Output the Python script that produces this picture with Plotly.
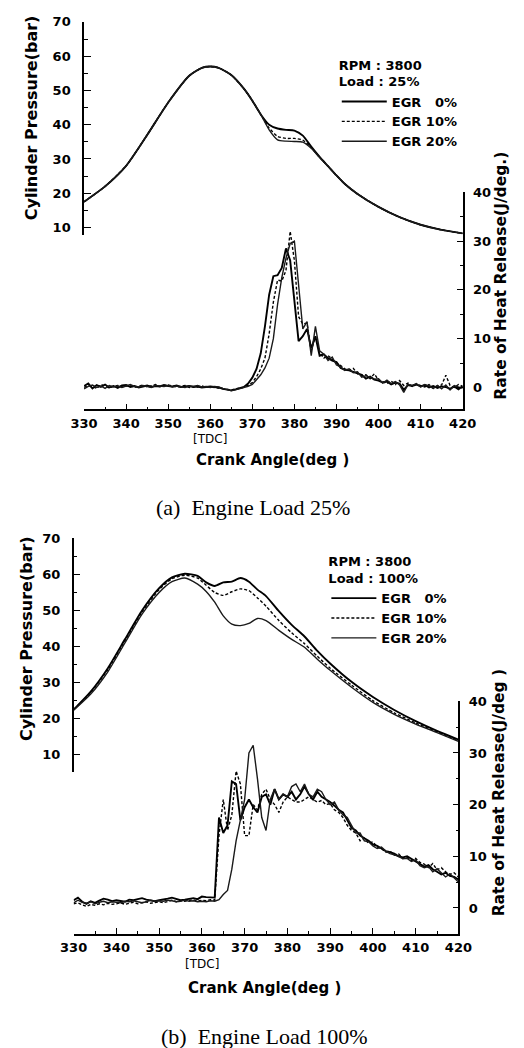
import plotly.graph_objects as go

# ---------------- data ----------------
CA = list(range(330, 421))  # crank angle, 1 deg steps (heat release)

# (a) Engine load 25 % - cylinder pressure (bar)
PA_ANG = [330, 335, 340, 345, 350, 355, 358, 360, 362, 365, 368, 370, 372, 374, 376, 378,
          380, 382, 384, 386, 388, 390, 392, 395, 400, 405, 410, 415, 420]
PA_EGR0 = [17.5, 22.0, 28.0, 37.0, 46.5, 54.3, 56.6, 57.0, 56.6, 54.5, 50.5, 47.0, 43.0, 40.0,
           38.9, 38.5, 38.3, 36.8, 33.6, 30.6, 27.9, 25.2, 22.7, 19.8, 16.0, 13.0, 10.8, 9.3, 8.3]
PA_EGR10 = [17.5, 22.0, 28.0, 37.0, 46.5, 54.3, 56.6, 57.0, 56.6, 54.5, 50.5, 47.0, 43.0, 39.0,
            36.6, 36.0, 36.0, 35.5, 33.3, 30.5, 27.9, 25.2, 22.7, 19.8, 16.0, 13.0, 10.8, 9.3, 8.3]
PA_EGR20 = [17.5, 22.0, 28.0, 37.0, 46.5, 54.3, 56.6, 57.0, 56.6, 54.5, 50.5, 47.0, 43.0, 38.5,
            35.6, 35.2, 35.1, 34.9, 33.1, 30.4, 27.9, 25.2, 22.7, 19.8, 16.0, 13.0, 10.8, 9.3, 8.3]

# (a) rate of heat release (J/deg)
HA_EGR0 = [0.3, 0.8, -0.2, 0.5, 0.1, 0.6, 0.0, 0.3, -0.1, 0.4,
           0.5, 0.1, 0.3, 0.0, 0.2, 0.4, 0.1, 0.3, 0.2, 0.5,
           0.3, 0.2, 0.4, 0.1, 0.2, 0.3, 0.1, 0.2, 0.0, 0.1,
           0.2, 0.1, 0.0, -0.3, -0.5, -0.6, -0.4, -0.2, 0.1, 0.8,
           2.0, 3.8, 7.0, 12.5, 19.0, 22.8, 23.0, 24.5, 28.5, 26.0,
           17.0, 9.5, 10.5, 12.0, 8.0, 10.5, 6.5, 6.8, 6.0, 5.5,
           5.2, 4.0, 3.6, 3.5, 3.2, 2.9, 2.6, 1.8, 2.2, 1.6,
           1.4, 1.0, 1.2, 0.6, 1.0, 0.8, -0.5, 0.5, 0.3, 0.6,
           0.2, 0.5, 0.0, 0.3, -0.1, 0.2, 0.1, -0.3, 0.2, -0.4,
           0.3]
HA_EGR10 = [0.0, 0.4, 0.2, -0.2, 0.6, 0.3, -0.1, 0.2, 0.4, 0.1,
            0.2, 0.4, 0.0, 0.3, 0.5, 0.1, 0.3, 0.6, 0.2, 0.4,
            0.5, 0.3, 0.1, 0.2, 0.4, 0.0, 0.2, 0.1, 0.3, 0.0,
            0.1, 0.0, -0.1, -0.2, -0.4, -0.5, -0.3, -0.2, 0.0, 0.4,
            1.0, 2.2, 3.8, 6.0, 11.0, 17.5, 22.0, 21.8, 24.0, 32.0,
            26.0, 14.5, 13.0, 13.2, 7.5, 10.5, 7.2, 6.0, 6.5, 5.8,
            5.0, 4.5, 3.8, 3.5, 3.9, 2.8, 2.5, 2.6, 1.8, 2.8,
            1.5, 1.2, 0.8, 1.3, 0.6, 1.4, 0.4, 0.9, 0.2, 0.7,
            0.4, 0.1, 0.6, -0.2, 0.3, 0.5, 2.5, 0.4, 0.0, 0.6,
            0.2]
HA_EGR20 = [-0.3, 0.2, 0.5, 0.0, 0.3, -0.2, 0.4, 0.1, 0.3, 0.0,
            0.3, 0.6, 0.2, 0.1, 0.4, 0.2, 0.0, 0.4, 0.3, 0.2,
            0.4, 0.1, 0.3, 0.2, 0.0, 0.3, 0.2, 0.4, 0.1, 0.2,
            0.0, 0.2, 0.1, -0.2, -0.5, -0.7, -0.5, -0.3, -0.1, 0.2,
            0.6, 1.5, 2.6, 4.0, 6.0, 10.0, 17.0, 22.5, 26.5, 29.5,
            30.0, 21.0, 12.0, 13.5, 6.5, 12.5, 7.5, 6.8, 5.5, 6.2,
            4.6, 4.2, 3.5, 3.8, 3.0, 3.2, 2.1, 2.4, 2.0, 1.7,
            1.8, 0.9, 1.5, 0.8, 1.2, 0.5, -1.0, 0.6, 0.4, 0.8,
            0.1, 0.6, 0.3, -0.2, 0.4, -0.3, 0.5, -0.5, 0.4, 0.1,
            -0.2]

# (b) Engine load 100 % - cylinder pressure (bar)
PB_ANG = [330, 334, 338, 342, 346, 350, 353, 356, 359, 361, 363, 365, 367, 369, 371, 373,
          375, 378, 381, 384, 387, 390, 395, 400, 405, 410, 415, 420]
PB_EGR0 = [22.5, 27.5, 34.0, 42.0, 50.0, 56.2, 59.2, 60.2, 59.6, 57.8, 56.8, 57.8, 58.0, 59.0,
           58.0, 55.8, 54.0, 49.8, 46.0, 42.8, 38.8, 35.3, 30.2, 26.0, 22.4, 19.3, 16.6, 14.2]
PB_EGR10 = [22.5, 27.2, 33.6, 41.6, 49.6, 55.8, 58.8, 59.8, 59.0, 57.0, 55.0, 54.2, 55.2, 56.0,
            55.5, 53.5, 51.2, 47.2, 43.8, 40.8, 37.3, 34.0, 29.3, 25.0, 21.6, 18.8, 16.3, 13.9]
PB_EGR20 = [22.3, 26.8, 33.0, 41.0, 49.0, 55.0, 58.0, 59.0, 57.3, 55.3, 52.3, 48.5, 46.2, 45.8,
            46.4, 47.8, 47.2, 44.5, 42.0, 39.8, 36.5, 33.4, 28.7, 24.5, 21.2, 18.5, 16.1, 13.7]

# (b) rate of heat release (J/deg)
HB_EGR0 = [1.5, 2.0, 1.2, 0.8, 1.3, 1.0, 1.4, 1.8, 1.6, 1.3,
           1.5, 1.4, 1.2, 1.6, 1.5, 1.7, 1.9, 1.6, 1.4, 1.3,
           1.5, 1.6, 1.8, 2.0, 1.7, 1.5, 1.6, 1.8, 1.9, 1.7,
           2.2, 2.1, 2.0, 2.0, 17.5, 14.5, 16.0, 24.5, 24.0, 17.0,
           19.5, 21.0, 19.5, 18.5, 21.5, 22.0, 20.0, 23.0, 21.0, 22.0,
           21.5, 22.5, 21.0, 22.0, 23.5, 22.0, 21.0, 22.5, 21.5, 21.0,
           20.5, 19.8, 19.0, 18.5, 17.0, 15.5, 15.0, 14.0, 13.5, 13.0,
           12.3, 12.0, 11.5, 11.0, 10.8, 10.5, 10.0, 9.8, 10.0, 9.5,
           9.0, 8.5, 8.0, 8.3, 7.5, 7.0, 6.5, 6.8, 6.2, 6.0,
           5.5]
HB_EGR10 = [0.8, 1.0, 0.6, 0.3, 0.7, 0.5, 0.8, 0.6, 0.9, 0.7,
            0.8, 1.0, 0.7, 0.9, 1.1, 0.8, 1.0, 1.2, 0.9, 1.1,
            1.2, 1.0, 1.3, 1.5, 1.2, 1.4, 1.3, 1.5, 1.6, 1.3,
            1.5, 1.4, 1.6, 1.5, 14.0, 21.0, 15.0, 18.0, 26.5, 24.0,
            14.0, 14.0, 20.0, 19.0, 22.0, 23.0, 21.0, 20.0, 18.5, 20.5,
            21.5, 21.0, 20.5, 20.5, 21.0, 21.5, 21.0, 20.5, 20.8, 20.0,
            20.2, 19.0, 18.5, 17.5, 16.0, 15.0, 14.5, 13.0, 13.5, 12.5,
            12.8, 11.8, 11.5, 10.8, 11.0, 10.2, 10.5, 9.6, 9.8, 9.2,
            9.6, 8.8, 8.5, 7.8, 8.6, 7.4, 7.8, 7.0, 6.5, 6.8,
            6.0]
HB_EGR20 = [1.0, 1.5, 1.1, 0.9, 1.2, 0.8, 1.1, 1.3, 1.0, 1.2,
            1.1, 1.0, 1.3, 1.2, 1.4, 1.2, 1.0, 1.2, 1.5, 1.3,
            1.4, 1.3, 1.5, 1.4, 1.2, 1.3, 1.5, 1.3, 1.4, 1.2,
            1.3, 1.2, 1.4, 1.3, 1.6, 2.6, 3.4, 7.5, 13.0, 17.0,
            21.0, 30.0, 31.5, 25.0, 17.5, 15.0, 21.0, 23.0, 21.0, 22.0,
            21.5, 23.5, 24.0, 22.5, 24.0, 22.0, 21.5, 23.0, 22.5, 21.0,
            20.0, 20.5, 19.0, 18.0, 17.5, 16.0, 14.5, 14.5, 13.0, 12.8,
            12.0, 11.5, 11.8, 11.0, 10.5, 10.3, 10.0, 9.5, 9.6, 9.0,
            9.3, 8.2, 7.8, 8.0, 7.0, 7.6, 6.8, 6.0, 6.6, 5.8,
            5.0]

SERIES = ["EGR\u00a0\u00a0\u00a00%", "EGR 10%", "EGR 20%"]
X_TICKS = [330, 340, 350, 360, 370, 380, 390, 400, 410, 420]
P_TICKS = [10, 20, 30, 40, 50, 60, 70]
H_TICKS = [0, 10, 20, 30, 40]

# ---------------- layout helpers ----------------
W, H = 524, 1048
FONT = "DejaVu Sans"


def fx(p):
    return p / W


def fy(p):
    return 1 - p / H


STYLES = [dict(color="black", width=1.9, dash="solid"),
          dict(color="black", width=1.4, dash="3px,2px"),
          dict(color="#1a1a1a", width=1.4, dash="solid")]

fig = go.Figure()

panels = [
    dict(x="x", yp="y", yh="y2", ang=PA_ANG, p=[PA_EGR0, PA_EGR10, PA_EGR20],
         h=[HA_EGR0, HA_EGR10, HA_EGR20], legend="legend"),
    dict(x="x2", yp="y3", yh="y4", ang=PB_ANG, p=[PB_EGR0, PB_EGR10, PB_EGR20],
         h=[HB_EGR0, HB_EGR10, HB_EGR20], legend="legend2"),
]

for pan in panels:
    for i, name in enumerate(SERIES):
        fig.add_trace(go.Scatter(x=pan["ang"], y=pan["p"][i], mode="lines", name=name,
                                 line=dict(**STYLES[i], shape="spline", smoothing=0.6),
                                 xaxis=pan["x"], yaxis=pan["yp"], legend=pan["legend"],
                                 showlegend=True, cliponaxis=False))
    for i, name in enumerate(SERIES):
        fig.add_trace(go.Scatter(x=CA, y=pan["h"][i], mode="lines", name=name,
                                 line=dict(**STYLES[i]), xaxis=pan["x"], yaxis=pan["yh"],
                                 showlegend=False))

tickfont = dict(family=FONT, size=13, color="black", weight="bold")
common = dict(showgrid=False, zeroline=False, showline=True, linecolor="black",
              linewidth=1.5, ticks="inside", tickcolor="black", tickwidth=1.3,
              tickfont=tickfont, fixedrange=True)

# panel geometry (pixels)
A = dict(xl=74, xr=474, p_top=15, p_bot=230, p_rng=[7.68, 70], h_top=186.5, h_bot=405,
         h_rng=[-4.48, 40])
B = dict(xl=63, xr=469.5, p_top=535, p_bot=770, p_rng=[5.23, 70], h_top=699, h_bot=933,
         h_rng=[-5.0, 40])

layout_axes = {}
for idx, (g, xa, ya, yb) in enumerate([(A, "xaxis", "yaxis", "yaxis2"),
                                        (B, "xaxis2", "yaxis3", "yaxis4")]):
    xref = "x" if idx == 0 else "x2"
    yhid = "y2" if idx == 0 else "y4"
    layout_axes[xa] = dict(common, domain=[fx(g["xl"]), fx(g["xr"])], range=[330, 420],
                           anchor=yhid, tickvals=X_TICKS, ticklen=6, ticklabelstandoff=1,
                           minor=dict(dtick=5, tick0=330, ticklen=3, ticks="inside",
                                      tickcolor="black", tickwidth=1.2))
    layout_axes[ya] = dict(common, domain=[fy(g["p_bot"]), fy(g["p_top"])], range=g["p_rng"],
                           anchor=xref, side="left", tickvals=P_TICKS, ticklen=7,
                           ticklabelstandoff=9,
                           minor=dict(dtick=5, tick0=0, ticklen=4, ticks="inside",
                                      tickcolor="black", tickwidth=1.2))
    layout_axes[yb] = dict(common, domain=[fy(g["h_bot"]), fy(g["h_top"])], range=g["h_rng"],
                           anchor=xref, side="right", tickvals=H_TICKS, ticklen=6,
                           ticklabelstandoff=6,
                           minor=dict(dtick=5, tick0=0, ticklen=3, ticks="inside",
                                      tickcolor="black", tickwidth=1.2))

fig.update_layout(**layout_axes)

legfont = dict(family=FONT, size=13, color="black", weight="bold")
fig.update_layout(
    legend=dict(x=fx(341), y=fy(46), xanchor="left", yanchor="top", bgcolor="rgba(0,0,0,0)",
                font=legfont, itemwidth=45, tracegroupgap=0,
                title=dict(text="RPM : 3800<br>Load : 25%", font=legfont)),
    legend2=dict(x=fx(330), y=fy(546), xanchor="left", yanchor="top", bgcolor="rgba(0,0,0,0)",
                 font=legfont, itemwidth=45, tracegroupgap=0,
                 title=dict(text="RPM : 3800<br>Load : 100%", font=legfont)),
)

ann = []
titlefont = dict(family=FONT, size=15, color="black", weight="bold")
# x-axis titles
ann.append(dict(text="Crank Angle(deg )", x=fx(273), y=fy(456), font=titlefont))
ann.append(dict(text="Crank Angle(deg )", x=fx(265), y=fy(988), font=titlefont))
# TDC markers
tdcfont = dict(family=FONT, size=12, color="black")
ann.append(dict(text="[TDC]", x=fx(207), y=fy(435), font=tdcfont))
ann.append(dict(text="[TDC]", x=fx(198.5), y=fy(963), font=tdcfont))
# y titles
ann.append(dict(text="Cylinder Pressure(bar)", x=fx(18), y=fy(112), textangle=-90,
                font=dict(titlefont, size=16)))
ann.append(dict(text="Cylinder Pressure(bar)", x=fx(13), y=fy(636), textangle=-90,
                font=dict(titlefont, size=16)))
ann.append(dict(text="Rate of Heat Release(J/deg.)", x=fx(515), y=fy(270), textangle=-90,
                font=dict(titlefont, size=15.5)))
ann.append(dict(text="Rate of Heat Release(J/deg )", x=fx(512), y=fy(791), textangle=-90,
                font=dict(titlefont, size=15.5)))
# captions
capfont = dict(family="Liberation Serif", size=22, color="black")
ann.append(dict(text="(a)  Engine Load 25%", x=fx(252), y=fy(504), font=capfont))
ann.append(dict(text="(b)  Engine Load 100%", x=fx(265), y=fy(1036), font=capfont))

for a in ann:
    a.update(xref="paper", yref="paper", showarrow=False, xanchor="center", yanchor="middle")

fig.update_layout(annotations=ann, width=W, height=H,
                  margin=dict(l=0, r=0, t=0, b=0, pad=0),
                  paper_bgcolor="white", plot_bgcolor="rgba(0,0,0,0)", showlegend=True)

fig.write_html("out.html")
